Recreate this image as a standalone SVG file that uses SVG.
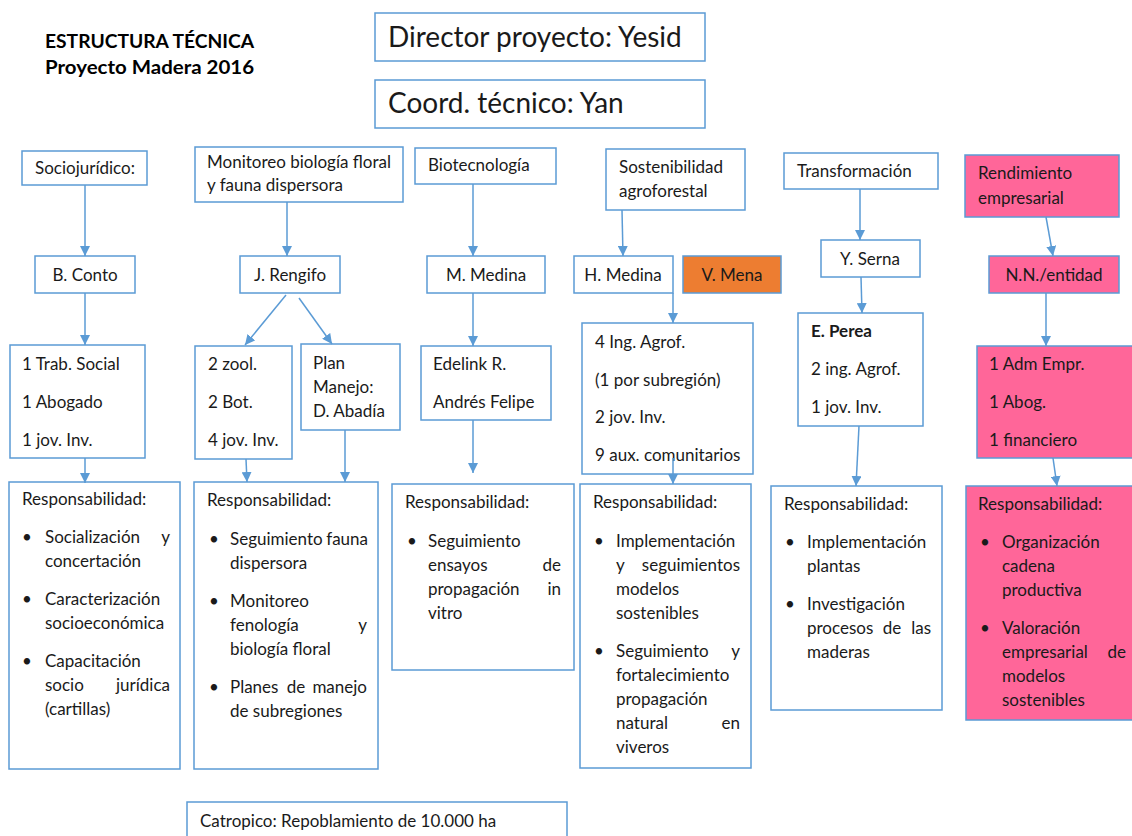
<svg xmlns="http://www.w3.org/2000/svg" width="1132" height="836" viewBox="0 0 1132 836">
<defs>
<marker id="ah" markerWidth="10" markerHeight="10" refX="10" refY="5" orient="auto" markerUnits="userSpaceOnUse"><path d="M0,0 L10,5 L0,10 z" fill="#5B9BD5"/></marker>
</defs>
<style>
.b{fill:#fff;stroke:#5B9BD5;stroke-width:1.5}
.p{fill:#FF6699;stroke:#5B9BD5;stroke-width:1.5}
.o{fill:#ED7D31;stroke:#5B9BD5;stroke-width:1.5}
text{font-family:Lato,"Open Sans",sans-serif;font-size:17px;fill:#1a1a1a}
.c{text-anchor:middle}
.e{text-anchor:end}
.m{text-anchor:middle}
.big{font-size:28px}
.t{font-weight:bold;font-size:19.5px;fill:#000}
.bd{font-weight:bold}
.cn line{stroke:#5B9BD5;stroke-width:1.5;marker-end:url(#ah)}
</style>
<rect width="1132" height="836" fill="#fff"/>
<g id="title">
<text class="t" x="45" y="48" textLength="209" lengthAdjust="spacingAndGlyphs">ESTRUCTURA TÉCNICA</text>
<text class="t" x="45" y="74" textLength="209" lengthAdjust="spacingAndGlyphs">Proyecto Madera 2016</text>
</g>
<g id="director"><rect class="b" x="375" y="13" width="330" height="48"/><text class="big" x="388" y="47">Director proyecto: Yesid</text></g>
<g id="coord"><rect class="b" x="375" y="80" width="330" height="48"/><text class="big" x="388" y="113">Coord. técnico: Yan</text></g>

<g id="sociojuridico"><rect class="b" x="22" y="151" width="125" height="34"/><text x="35" y="174">Sociojurídico:</text></g>
<g id="monitoreo"><rect class="b" x="195" y="147" width="208" height="55"/><text x="207" y="168">Monitoreo biología floral</text><text x="207" y="191">y fauna dispersora</text></g>
<g id="biotecnologia"><rect class="b" x="415" y="148" width="141" height="36"/><text x="428" y="171">Biotecnología</text></g>
<g id="sostenibilidad"><rect class="b" x="606" y="149" width="139" height="61"/><text x="619" y="173">Sostenibilidad</text><text x="619" y="197">agroforestal</text></g>
<g id="transformacion"><rect class="b" x="784" y="153" width="154" height="36"/><text x="797" y="177">Transformación</text></g>
<g id="rendimiento"><rect class="p" x="965" y="155" width="154" height="62"/><text x="978" y="179">Rendimiento</text><text x="978" y="204">empresarial</text></g>

<g id="bconto"><rect class="b" x="35" y="256" width="100" height="37"/><text class="c" x="85" y="281">B. Conto</text></g>
<g id="jrengifo"><rect class="b" x="240" y="256" width="100" height="37"/><text class="c" x="290" y="281">J. Rengifo</text></g>
<g id="mmedina"><rect class="b" x="427" y="256" width="118" height="37"/><text class="c" x="486" y="281">M. Medina</text></g>
<g id="hmedina"><rect class="b" x="574" y="256" width="99" height="37"/><text class="c" x="623" y="281">H. Medina</text></g>
<g id="vmena"><rect class="o" x="683" y="256" width="98" height="37"/><text class="c" x="732" y="281">V. Mena</text></g>
<g id="yserna"><rect class="b" x="821" y="240" width="99" height="37"/><text class="c" x="870" y="265">Y. Serna</text></g>
<g id="nn"><rect class="p" x="989" y="256" width="130" height="37"/><text class="c" x="1054" y="281">N.N./entidad</text></g>

<g id="staff1"><rect class="b" x="10" y="345" width="135" height="113"/><text x="22" y="370">1 Trab. Social</text><text x="22" y="408">1 Abogado</text><text x="22" y="446">1 jov. Inv.</text></g>
<g id="staff2"><rect class="b" x="195" y="346" width="97" height="113"/><text x="208" y="370">2 zool.</text><text x="208" y="408">2 Bot.</text><text x="208" y="446">4 jov. Inv.</text></g>
<g id="plan"><rect class="b" x="301" y="344" width="99" height="86"/><text x="313" y="369">Plan</text><text x="313" y="393">Manejo:</text><text x="313" y="417">D. Abadía</text></g>
<g id="staff3"><rect class="b" x="421" y="346" width="130" height="74"/><text x="433" y="370">Edelink R.</text><text x="433" y="408">Andrés Felipe</text></g>
<g id="staff4"><rect class="b" x="582" y="323" width="171" height="151"/><text x="595" y="348">4 Ing. Agrof.</text><text x="595" y="386">(1 por subregión)</text><text x="595" y="423">2 jov. Inv.</text><text x="595" y="461">9 aux. comunitarios</text></g>
<g id="staff5"><rect class="b" x="798" y="313" width="125" height="113"/><text class="bd" x="811" y="337">E. Perea</text><text x="811" y="375">2 ing. Agrof.</text><text x="811" y="413">1 jov. Inv.</text></g>
<g id="staff6"><rect class="p" x="977" y="346" width="157" height="112"/><text x="989" y="370">1 Adm Empr.</text><text x="989" y="408">1 Abog.</text><text x="989" y="446">1 financiero</text></g>

<g id="resp1"><rect class="b" x="9" y="482" width="171" height="287"/>
<text x="22" y="505">Responsabilidad:</text>
<text x="22" y="543">•</text><text x="45" y="543">Socialización</text><text class="e" x="170" y="543">y</text>
<text x="45" y="567">concertación</text>
<text x="22" y="605">•</text><text x="45" y="605">Caracterización</text>
<text x="45" y="629">socioeconómica</text>
<text x="22" y="667">•</text><text x="45" y="667">Capacitación</text>
<text x="45" y="691">socio</text><text class="e" x="170" y="691">jurídica</text>
<text x="45" y="715">(cartillas)</text>
</g>
<g id="resp2"><rect class="b" x="194" y="482" width="184" height="287"/>
<text x="207" y="506">Responsabilidad:</text>
<text x="209" y="545">•</text><text x="230" y="545">Seguimiento</text><text class="e" x="368" y="545">fauna</text>
<text x="230" y="569">dispersora</text>
<text x="209" y="607">•</text><text x="230" y="607">Monitoreo</text>
<text x="230" y="631">fenología</text><text class="e" x="367" y="631">y</text>
<text x="230" y="655">biología floral</text>
<text x="209" y="693">•</text><text x="230" y="693">Planes</text><text class="m" x="296" y="693">de</text><text class="e" x="367" y="693">manejo</text>
<text x="230" y="717">de subregiones</text>
</g>
<g id="resp3"><rect class="b" x="392" y="484" width="182" height="186"/>
<text x="405" y="508">Responsabilidad:</text>
<text x="407" y="547">•</text><text x="428" y="547">Seguimiento</text>
<text x="428" y="571">ensayos</text><text class="e" x="561" y="571">de</text>
<text x="428" y="595">propagación</text><text class="e" x="561" y="595">in</text>
<text x="428" y="619">vitro</text>
</g>
<g id="resp4"><rect class="b" x="580" y="484" width="171" height="284"/>
<text x="593" y="508">Responsabilidad:</text>
<text x="594" y="547">•</text><text x="616" y="547">Implementación</text>
<text x="616" y="571">y</text><text class="e" x="740" y="571">seguimientos</text>
<text x="616" y="595">modelos</text>
<text x="616" y="619">sostenibles</text>
<text x="594" y="657">•</text><text x="616" y="657">Seguimiento</text><text class="e" x="740" y="657">y</text>
<text x="616" y="681">fortalecimiento</text>
<text x="616" y="705">propagación</text>
<text x="616" y="729">natural</text><text class="e" x="740" y="729">en</text>
<text x="616" y="753">viveros</text>
</g>
<g id="resp5"><rect class="b" x="771" y="486" width="171" height="224"/>
<text x="784" y="510">Responsabilidad:</text>
<text x="785" y="548">•</text><text x="807" y="548">Implementación</text>
<text x="807" y="572">plantas</text>
<text x="785" y="610">•</text><text x="807" y="610">Investigación</text>
<text x="807" y="634">procesos</text><text class="m" x="892" y="634">de</text><text class="e" x="931" y="634">las</text>
<text x="807" y="658">maderas</text>
</g>
<g id="resp6"><rect class="p" x="966" y="486" width="168" height="234"/>
<text x="978" y="510">Responsabilidad:</text>
<text x="980" y="548">•</text><text x="1002" y="548">Organización</text>
<text x="1002" y="572">cadena</text>
<text x="1002" y="596">productiva</text>
<text x="980" y="634">•</text><text x="1002" y="634">Valoración</text>
<text x="1002" y="658">empresarial</text><text class="e" x="1126" y="658">de</text>
<text x="1002" y="682">modelos</text>
<text x="1002" y="706">sostenibles</text>
</g>
<g id="catropico"><rect class="b" x="187" y="802" width="380" height="40"/><text x="200" y="827">Catropico: Repoblamiento de 10.000 ha</text></g>

<g class="cn" id="connectors">
<line x1="85" y1="185" x2="85" y2="256"/>
<line x1="85" y1="293" x2="85" y2="345"/>
<line x1="85" y1="458" x2="85" y2="483"/>
<line x1="287" y1="202" x2="287" y2="256"/>
<line x1="286" y1="295" x2="245" y2="345"/>
<line x1="299" y1="298" x2="332" y2="344"/>
<line x1="246" y1="459" x2="247" y2="482"/>
<line x1="345" y1="430" x2="345" y2="482"/>
<line x1="473" y1="184" x2="473" y2="256"/>
<line x1="473" y1="293" x2="473" y2="346"/>
<line x1="473" y1="420" x2="473" y2="473"/>
<line x1="622" y1="210" x2="623" y2="256"/>
<line x1="673" y1="293" x2="673" y2="323"/>
<line x1="673" y1="458" x2="673" y2="484"/>
<line x1="860" y1="189" x2="860" y2="240"/>
<line x1="861" y1="277" x2="862" y2="313"/>
<line x1="859" y1="426" x2="856" y2="486"/>
<line x1="1046" y1="217" x2="1053" y2="256"/>
<line x1="1046" y1="293" x2="1046" y2="346"/>
<line x1="1053" y1="458" x2="1057" y2="486"/>
</g>
</svg>
